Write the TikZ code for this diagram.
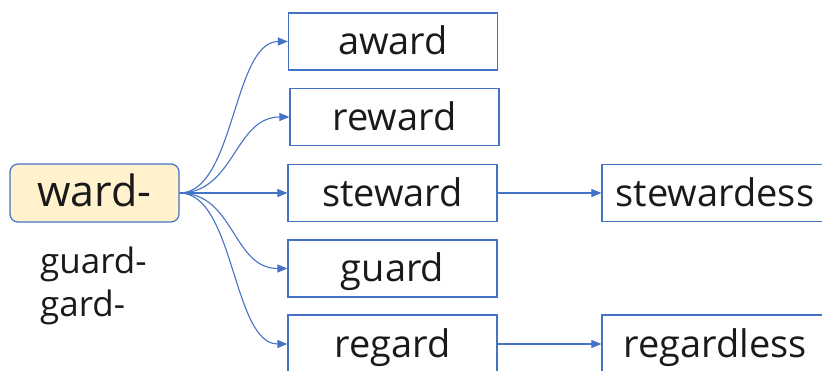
\documentclass[tikz,border=0pt]{standalone}
\usepackage{fontspec}
\setmainfont{Open Sans}
\usetikzlibrary{arrows.meta}
\definecolor{ublue}{HTML}{4472C4}
\definecolor{uyellow}{HTML}{FFF2CC}
\definecolor{utext}{HTML}{1A1A1A}
\begin{document}
\begin{tikzpicture}[x=1pt,y=-1pt,
  wordbox/.style={draw=ublue, line width=1.2pt, fill=white, inner sep=0pt,
    minimum width=209pt, minimum height=57pt, text=utext,
    font=\fontsize{38}{45}\selectfont, text height=34pt, text depth=7pt},
  rootbox/.style={wordbox, fill=uyellow, rounded corners=8pt, minimum width=169pt,
    minimum height=58pt, font=\fontsize{43}{50}\selectfont, text height=34pt, text depth=6pt},
  plain/.style={inner sep=0pt, text=utext, font=\fontsize{35}{42}\selectfont},
  link/.style={draw=ublue, line width=1.1pt, -{Triangle[length=10pt,width=8pt]}}]
\useasboundingbox (0,0) rectangle (822,371);
\clip (0,0) rectangle (822,371);
\node[rootbox] (ward) at (94.5,193) {ward-};
\node[wordbox] (award) at (393,41.5) {award};
\node[wordbox] (reward) at (394.5,117) {reward};
\node[wordbox] (steward) at (392.5,193) {steward};
\node[wordbox] (guard) at (392.5,268.5) {guard};
\node[wordbox, minimum height=58pt] (regard) at (392.5,344) {regard};
\node[wordbox, minimum width=226pt] (stewardess) at (715,193) {stewardess};
\node[wordbox, minimum width=226pt, minimum height=58pt] (regardless) at (715,344) {regardless};
\node[plain, anchor=base west] (g1) at (40,274) {guard-};
\node[plain, anchor=base west] (g2) at (40,317) {gard-};
\draw[link] (ward.east) .. controls +(55,0) and +(-55,0) .. (award.west);
\draw[link] (ward.east) .. controls +(55,0) and +(-55,0) .. (reward.west);
\draw[link] (ward.east) -- (steward.west);
\draw[link] (ward.east) .. controls +(55,0) and +(-55,0) .. (guard.west);
\draw[link] (ward.east) .. controls +(55,0) and +(-55,0) .. (regard.west);
\draw[link] (steward.east) -- (stewardess.west);
\draw[link] (regard.east) -- (regardless.west);
\end{tikzpicture}
\end{document}
